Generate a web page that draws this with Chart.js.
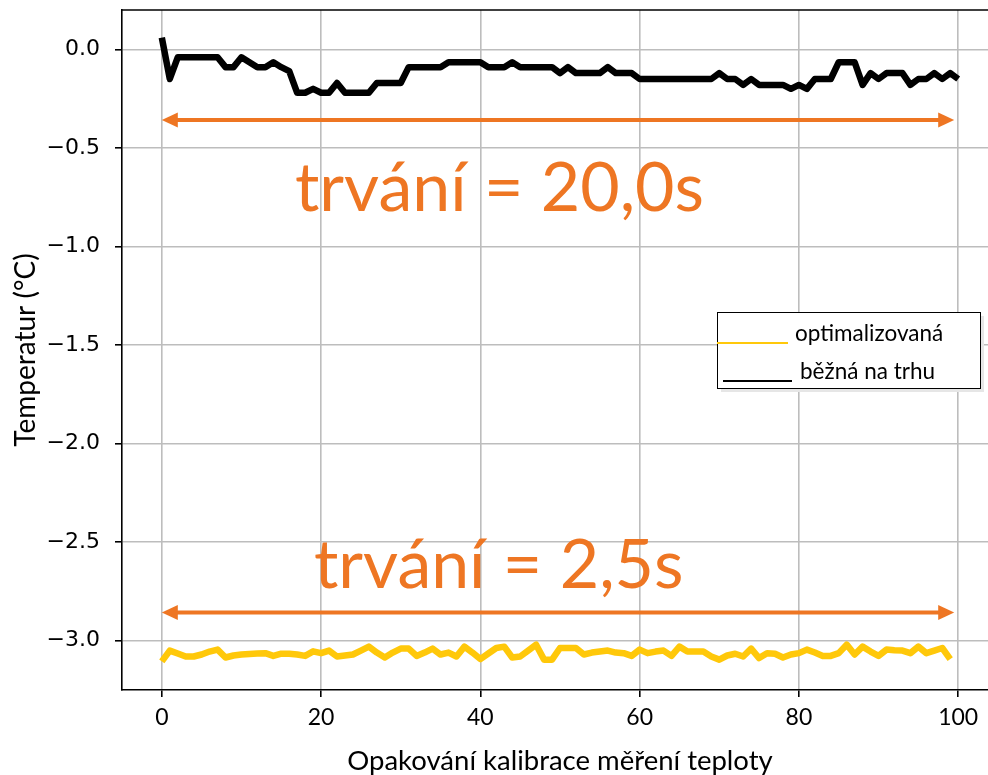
<!DOCTYPE html>
<html>
<head>
<meta charset="utf-8">
<script src="https://cdn.jsdelivr.net/npm/chart.js@4.4.1/dist/chart.umd.min.js"></script>
<style>
html,body{margin:0;padding:0;background:#fff;overflow:hidden;width:988px;height:775px;}
#c{display:block;}
</style>
</head>
<body>
<canvas id="c" width="1010" height="775" style="width:1010px;height:775px"></canvas>
<script>
// ---- data ----
const xLabelsYellow = Array.from({length:100},(_,i)=>i);
const xLabelsBlack = Array.from({length:101},(_,i)=>i);
const optimalizovana = [
 -3.105,-3.05,-3.065,-3.08,-3.08,-3.07,-3.055,-3.045,-3.085,-3.075,
 -3.07,-3.067,-3.065,-3.063,-3.077,-3.066,-3.066,-3.07,-3.077,-3.054,
 -3.063,-3.05,-3.08,-3.075,-3.07,-3.05,-3.03,-3.06,-3.085,-3.06,
 -3.04,-3.04,-3.077,-3.06,-3.04,-3.07,-3.06,-3.08,-3.03,-3.06,
 -3.093,-3.065,-3.037,-3.03,-3.085,-3.08,-3.05,-3.02,-3.096,-3.096,
 -3.037,-3.037,-3.037,-3.07,-3.06,-3.055,-3.05,-3.06,-3.063,-3.077,
 -3.045,-3.063,-3.055,-3.05,-3.077,-3.03,-3.055,-3.055,-3.055,-3.08,
 -3.096,-3.075,-3.066,-3.08,-3.04,-3.088,-3.063,-3.066,-3.085,-3.07,
 -3.063,-3.045,-3.06,-3.077,-3.077,-3.063,-3.02,-3.07,-3.03,-3.055,
 -3.077,-3.045,-3.048,-3.05,-3.063,-3.03,-3.063,-3.05,-3.037,-3.093
];
const beznaNaTrhu = [
 0.06,-0.15,-0.04,-0.04,-0.04,-0.04,-0.04,-0.04,-0.09,-0.09,
 -0.04,-0.065,-0.09,-0.09,-0.065,-0.09,-0.11,-0.22,-0.22,-0.20,
 -0.22,-0.22,-0.17,-0.22,-0.22,-0.22,-0.22,-0.17,-0.17,-0.17,
 -0.17,-0.09,-0.09,-0.09,-0.09,-0.09,-0.065,-0.065,-0.065,-0.065,
 -0.065,-0.09,-0.09,-0.09,-0.065,-0.09,-0.09,-0.09,-0.09,-0.09,
 -0.12,-0.09,-0.12,-0.12,-0.12,-0.12,-0.09,-0.12,-0.12,-0.12,
 -0.15,-0.15,-0.15,-0.15,-0.15,-0.15,-0.15,-0.15,-0.15,-0.15,
 -0.12,-0.15,-0.15,-0.18,-0.15,-0.18,-0.18,-0.18,-0.18,-0.20,
 -0.18,-0.20,-0.15,-0.15,-0.15,-0.065,-0.065,-0.065,-0.18,-0.12,
 -0.15,-0.12,-0.12,-0.12,-0.18,-0.15,-0.15,-0.12,-0.15,-0.12,
 -0.15
];
const xTicks = [0,20,40,60,80,100];
const yTicks = [0,-0.5,-1,-1.5,-2,-2.5,-3];
const seriesNames = ['optimalizovaná','běžná na trhu'];
const annotTexts = ['trvání = 20,0s','trvání = 2,5s'];

const ORANGE = '#EE7623';
const YELLOW = '#FFC80A';

const extras = {
  id:'extras',
  afterDraw(chart){
    const {ctx, chartArea:a, scales:{x,y}} = chart;
    ctx.save();
    // top border
    ctx.strokeStyle='#000'; ctx.lineWidth=1.6;
    ctx.beginPath(); ctx.moveTo(a.left-0.8,a.top); ctx.lineTo(a.right,a.top); ctx.stroke();
    // arrows
    function arrow(x0,x1,yv){
      const px0=x.getPixelForValue(x0), px1=x.getPixelForValue(x1), py=y.getPixelForValue(yv);
      const L=16,H=7.5;
      ctx.strokeStyle=ORANGE; ctx.fillStyle=ORANGE; ctx.lineWidth=4;
      ctx.beginPath(); ctx.moveTo(px0+L-2,py); ctx.lineTo(px1-L+2,py); ctx.stroke();
      ctx.beginPath(); ctx.moveTo(px0,py); ctx.lineTo(px0+L,py-H); ctx.lineTo(px0+L,py+H); ctx.closePath(); ctx.fill();
      ctx.beginPath(); ctx.moveTo(px1,py); ctx.lineTo(px1-L,py-H); ctx.lineTo(px1-L,py+H); ctx.closePath(); ctx.fill();
    }
    arrow(0,99.5,-0.358);
    arrow(0,99.5,-2.857);
    // big texts
    ctx.fillStyle=ORANGE; ctx.textAlign='center'; ctx.textBaseline='middle';
    ctx.font='68px Lato';
    ctx.fillText(annotTexts[0], x.getPixelForValue(42.4), y.getPixelForValue(-0.71));
    ctx.fillText(annotTexts[1], x.getPixelForValue(42.3), y.getPixelForValue(-2.62));
    // legend box
    const bx=717, by=312, bw=263, bh=76;
    ctx.fillStyle='#e6e6e6'; ctx.fillRect(bx+4,by+4,bw,bh);
    ctx.fillStyle='#fff'; ctx.fillRect(bx,by,bw,bh);
    ctx.strokeStyle='#000'; ctx.lineWidth=1; ctx.strokeRect(bx+0.5,by+0.5,bw,bh);
    const ds=chart.data.datasets;
    ctx.lineWidth=2;
    ctx.strokeStyle=ds[0].borderColor;
    ctx.beginPath(); ctx.moveTo(717,343); ctx.lineTo(788,343); ctx.stroke();
    ctx.strokeStyle=ds[1].borderColor;
    ctx.beginPath(); ctx.moveTo(723,381); ctx.lineTo(792,381); ctx.stroke();
    ctx.fillStyle='#000'; ctx.textAlign='left'; ctx.textBaseline='alphabetic';
    ctx.font='22.5px Lato';
    ctx.fillText(ds[0].label, 795, 341);
    ctx.fillText(ds[1].label, 800, 379);
    ctx.restore();
  }
};

new Chart(document.getElementById('c'),{
  type:'line',
  data:{
    datasets:[
      {label:seriesNames[0], data:optimalizovana.map((v,i)=>({x:xLabelsYellow[i],y:v})), borderColor:YELLOW, borderWidth:6.5, pointRadius:0, fill:false, tension:0, borderJoinStyle:'round'},
      {label:seriesNames[1], data:beznaNaTrhu.map((v,i)=>({x:xLabelsBlack[i],y:v})), borderColor:'#000', borderWidth:6.5, pointRadius:0, fill:false, tension:0, borderJoinStyle:'round'}
    ]
  },
  options:{
    responsive:false, animation:false, devicePixelRatio:1,
    layout:{padding:{top:10,right:12,left:0,bottom:0}},
    plugins:{legend:{display:false}, tooltip:{enabled:false}},
    scales:{
      x:{type:'linear', min:-5, max:105,
        afterBuildTicks:s=>{s.ticks=xTicks.map(v=>({value:v}));},
        afterFit:s=>{s.height=85; s.paddingLeft=0; s.paddingRight=0;},
        grid:{color:'#bdbdbd', lineWidth:1.6, tickLength:7, tickColor:'#000', tickWidth:1.6},
        border:{color:'#000', width:1.6},
        ticks:{font:{family:'Lato', size:23}, color:'#000', padding:7, maxRotation:0, callback:v=>String(v)},
        title:{display:true, text:'Opakování kalibrace měření teploty', font:{family:'Lato', size:27.5}, color:'#000', padding:{top:0,bottom:-3}}
      },
      y:{type:'linear', min:-3.25, max:0.2,
        afterBuildTicks:s=>{s.ticks=yTicks.map(v=>({value:v}));},
        afterFit:s=>{s.width=122; s.paddingTop=0; s.paddingBottom=0;},
        grid:{color:'#bdbdbd', lineWidth:1.6, tickLength:7, tickColor:'#000', tickWidth:1.6},
        border:{color:'#000', width:1.6},
        ticks:{font:{family:'DejaVu Sans', size:22}, color:'#000', padding:15, callback:v=>v.toFixed(1).replace('-','\u2212')},
        title:{display:true, text:'Temperatur (°C)', font:{family:'Lato', size:28}, color:'#000', padding:{top:9,bottom:0}}
      }
    }
  },
  plugins:[extras]
});
</script>
</body>
</html>
